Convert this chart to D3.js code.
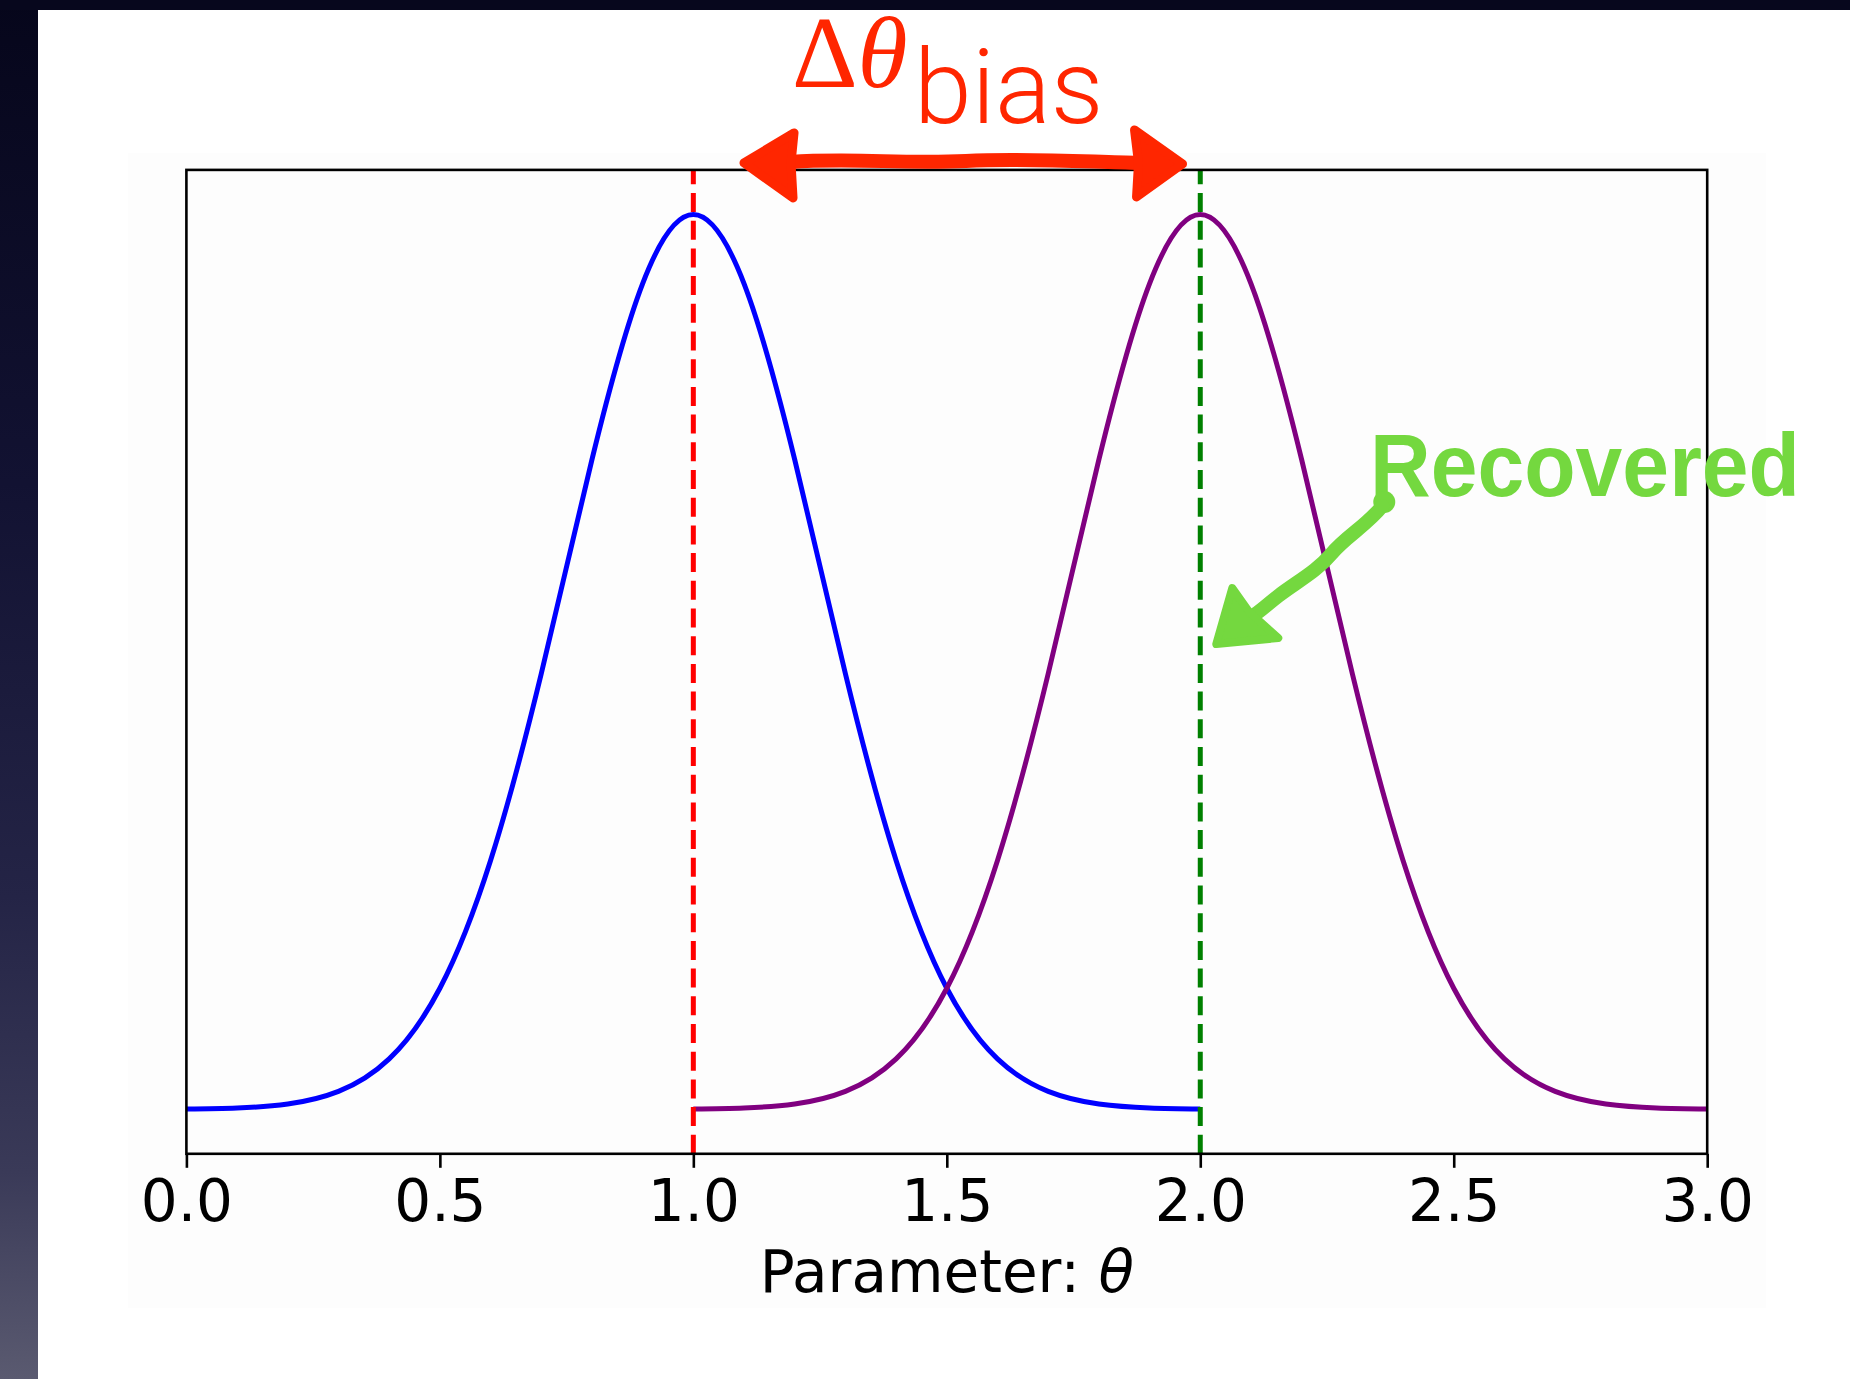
<!DOCTYPE html>
<html>
<head>
<meta charset="utf-8">
<script src="https://cdn.jsdelivr.net/npm/d3@7"></script>
<style>
  html, body { margin: 0; padding: 0; background: #fff; }
  svg { display: block; }
</style>
</head>
<body>
<svg id="chart" width="1850" height="1379"></svg>
<script>
// x-axis tick positions
const xTicks = [0.0, 0.5, 1.0, 1.5, 2.0, 2.5, 3.0];

// posterior centred on the true value (blue)
const blueTheta   = [0.0, 0.1, 0.2, 0.3, 0.4, 0.5, 0.6, 0.7, 0.8, 0.9, 1.0,
                     1.1, 1.2, 1.3, 1.4, 1.5, 1.6, 1.7, 1.8, 1.9, 2.0];
const blueDensity = [0.0005, 0.0025, 0.0095, 0.032, 0.090, 0.216, 0.444, 0.777, 1.159, 1.473, 1.596,
                     1.473, 1.159, 0.777, 0.444, 0.216, 0.090, 0.032, 0.0095, 0.0025, 0.0005];

// recovered posterior (purple)
const purpleTheta   = [1.0, 1.1, 1.2, 1.3, 1.4, 1.5, 1.6, 1.7, 1.8, 1.9, 2.0,
                       2.1, 2.2, 2.3, 2.4, 2.5, 2.6, 2.7, 2.8, 2.9, 3.0];
const purpleDensity = [0.0005, 0.0025, 0.0095, 0.032, 0.090, 0.216, 0.444, 0.777, 1.159, 1.473, 1.596,
                       1.473, 1.159, 0.777, 0.444, 0.216, 0.090, 0.032, 0.0095, 0.0025, 0.0005];

// vertical reference lines
const trueTheta = 1.0;
const recoveredTheta = 2.0;

// bias arrow end points (in θ units)
const biasArrowFrom = 1.10;
const biasArrowTo = 1.965;

const W = 1850, H = 1379;
const plot = { left: 186.4, right: 1707.2, top: 169.9, bottom: 1153.8 };

const svg = d3.select('#chart');
const defs = svg.append('defs');

const grad = defs.append('linearGradient')
  .attr('id', 'edge').attr('x1', 0).attr('y1', 0).attr('x2', 0).attr('y2', 1);
[[0, '#06061b'], [0.35, '#121232'], [0.65, '#242446'], [0.85, '#3a3a58'], [1, '#5a5a70']]
  .forEach(([o, c]) => grad.append('stop').attr('offset', o).attr('stop-color', c));

// slide background
svg.append('rect').attr('width', W).attr('height', H).attr('fill', '#ffffff');
svg.append('rect').attr('x', 0).attr('y', 0).attr('width', 38).attr('height', H).attr('fill', 'url(#edge)');
svg.append('rect').attr('x', 0).attr('y', 0).attr('width', W).attr('height', 10).attr('fill', '#07071d');

// figure canvas
svg.append('rect')
  .attr('x', 128).attr('y', 153).attr('width', 1638).attr('height', 1155)
  .attr('fill', '#fdfdfd');

// scales
const x = d3.scaleLinear().domain([0, 3]).range([plot.left, plot.right]);
const allDensity = blueDensity.concat(purpleDensity);
const yLo = d3.min(allDensity), yHi = d3.max(allDensity);
const yPad = (yHi - yLo) * 0.05;
const y = d3.scaleLinear().domain([yLo - yPad, yHi + yPad]).range([plot.bottom, plot.top]);

const line = d3.line()
  .x(d => x(d[0]))
  .y(d => y(d[1]))
  .curve(d3.curveNatural);

const curves = svg.append('g').attr('fill', 'none').attr('stroke-width', 5);
curves.append('path')
  .attr('d', line(d3.zip(blueTheta, blueDensity)))
  .attr('stroke', '#0000ff');
curves.append('path')
  .attr('d', line(d3.zip(purpleTheta, purpleDensity)))
  .attr('stroke', '#800080');

// dashed markers
[[trueTheta, '#ff0000'], [recoveredTheta, '#008000']].forEach(([v, c]) => {
  svg.append('line')
    .attr('x1', x(v)).attr('x2', x(v))
    .attr('y1', plot.bottom).attr('y2', plot.top)
    .attr('stroke', c).attr('stroke-width', 5)
    .attr('stroke-dasharray', '19,8.7');
});

// frame
svg.append('rect')
  .attr('x', plot.left).attr('y', plot.top)
  .attr('width', plot.right - plot.left).attr('height', plot.bottom - plot.top)
  .attr('fill', 'none').attr('stroke', '#000').attr('stroke-width', 2.6);

// x axis
const axis = svg.append('g')
  .attr('transform', `translate(0,${plot.bottom})`)
  .call(d3.axisBottom(x).tickValues(xTicks).tickFormat(d3.format('.1f'))
    .tickSize(14).tickSizeOuter(0).tickPadding(12));
axis.select('.domain').remove();
axis.selectAll('.tick line').attr('stroke', '#000').attr('stroke-width', 2.6);
axis.selectAll('.tick text')
  .attr('fill', '#000')
  .style('font-family', '"DejaVu Sans", sans-serif')
  .style('font-size', '58px');

const xLabel = svg.append('text')
  .attr('x', (plot.left + plot.right) / 2).attr('y', 1292)
  .attr('text-anchor', 'middle')
  .style('font-family', '"DejaVu Sans", sans-serif')
  .style('font-size', '58px')
  .attr('fill', '#000');
xLabel.append('tspan').text('Parameter: ');
xLabel.append('tspan').style('font-style', 'oblique').text('θ');

// bias annotation
const red = '#ff2600';
const title = svg.append('text')
  .attr('fill', red)
  .style('font-family', '"Liberation Serif", "Times New Roman", serif')
  .style('font-size', '102px');
title.append('tspan')
  .attr('x', 792).attr('y', 87)
  .text('Δ');
title.append('tspan')
  .style('font-style', 'italic')
  .text('θ');
title.append('tspan')
  .attr('x', 914).attr('y', 123)
  .style('font-family', 'Roboto, "Liberation Sans", sans-serif')
  .style('font-weight', '300')
  .style('font-size', '104px')
  .text('bias');

const ax0 = x(biasArrowFrom), ax1 = x(biasArrowTo), ay = plot.top - 7;
const biasArrow = svg.append('g').attr('fill', red).attr('stroke', red)
  .attr('stroke-linejoin', 'round').attr('stroke-linecap', 'round');
biasArrow.append('path')
  .attr('fill', 'none').attr('stroke-width', 14)
  .attr('d', `M${ax0 + 46},${ay - 1} C${ax0 + 110},${ay - 5} ${ax0 + 160},${ay + 1} ${ax0 + 222},${ay - 2}` +
             ` S${ax1 - 95},${ay - 1} ${ax1 - 44},${ay}`);
biasArrow.append('path')
  .attr('stroke-width', 9)
  .attr('d', `M${ax0},${ay} L${ax0 + 50},${ay - 30} L${ax0 + 47},${ay} L${ax0 + 49},${ay + 35} Z`);
biasArrow.append('path')
  .attr('stroke-width', 9)
  .attr('d', `M${ax1},${ay + 1} L${ax1 - 48},${ay - 33} L${ax1 - 44},${ay} L${ax1 - 46},${ay + 34} Z`);

// recovered annotation
const green = '#74d83f';
svg.append('text')
  .attr('x', 1370).attr('y', 496)
  .attr('fill', green)
  .attr('textLength', 430).attr('lengthAdjust', 'spacingAndGlyphs')
  .style('font-family', '"Liberation Sans", sans-serif')
  .style('font-weight', 'bold')
  .style('font-size', '89px')
  .text('Recovered');

const gx = x(recoveredTheta) + 16, gy = 644;
const recArrow = svg.append('g').attr('fill', green).attr('stroke', green)
  .attr('stroke-linejoin', 'round').attr('stroke-linecap', 'round');
recArrow.append('circle').attr('cx', gx + 168).attr('cy', gy - 142).attr('r', 11).attr('stroke', 'none');
recArrow.append('path')
  .attr('fill', 'none').attr('stroke-width', 14)
  .attr('d', `M${gx + 166},${gy - 138} C${gx + 150},${gy - 118} ${gx + 130},${gy - 108} ${gx + 115},${gy - 90}` +
             ` S${gx + 80},${gy - 62} ${gx + 62},${gy - 48} S${gx + 40},${gy - 28} ${gx + 26},${gy - 24}`);
recArrow.append('path')
  .attr('stroke-width', 8)
  .attr('d', `M${gx},${gy} L${gx + 16},${gy - 56} L${gx + 33},${gy - 32} L${gx + 62},${gy - 6} Z`);
</script>
</body>
</html>
